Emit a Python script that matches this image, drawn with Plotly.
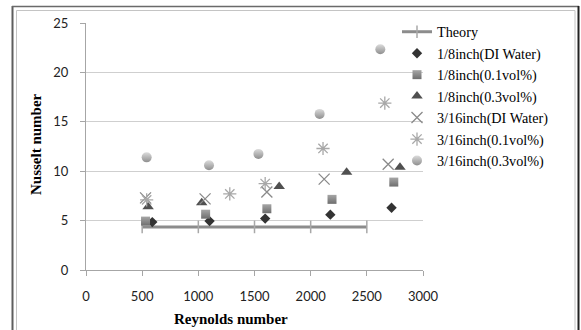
import plotly.graph_objects as go

# ---- data ----
theory_re = [500, 1000, 1500, 2000, 2500]
theory_nu = [4.36, 4.36, 4.36, 4.36, 4.36]

s1_re = [590, 1100, 1595, 2175, 2720]      # 1/8inch(DI Water)
s1_nu = [4.85, 4.95, 5.2, 5.6, 6.3]

s2_re = [530, 1065, 1610, 2190, 2740]      # 1/8inch(0.1vol%)
s2_nu = [4.95, 5.65, 6.2, 7.15, 8.9]

s3_re = [553, 1030, 1720, 2320, 2795]      # 1/8inch(0.3vol%)
s3_nu = [6.4, 6.8, 8.45, 9.9, 10.4]

s4_re = [530, 1060, 1610, 2120, 2690]      # 3/16inch(DI Water)
s4_nu = [7.3, 7.2, 7.9, 9.2, 10.7]

s5_re = [540, 1280, 1595, 2110, 2660]      # 3/16inch(0.1vol%)
s5_nu = [7.1, 7.7, 8.75, 12.3, 16.9]

s6_re = [540, 1095, 1535, 2080, 2620]      # 3/16inch(0.3vol%)
s6_nu = [11.4, 10.6, 11.75, 15.8, 22.35]

x_ticks = [0, 500, 1000, 1500, 2000, 2500, 3000]
y_ticks = [0, 5, 10, 15, 20, 25]

names = ["Theory", "1/8inch(DI Water)", "1/8inch(0.1vol%)", "1/8inch(0.3vol%)",
         "3/16inch(DI Water)", "3/16inch(0.1vol%)", "3/16inch(0.3vol%)"]

fig = go.Figure()

fig.add_trace(go.Scatter(
    x=theory_re, y=theory_nu, name=names[0], mode="lines+markers",
    line=dict(color="#8c8c8c", width=3),
    marker=dict(symbol="line-ns", size=9, color="#a8a8a8",
                line=dict(color="#a8a8a8", width=1.5)),
))
fig.add_trace(go.Scatter(
    x=s1_re, y=s1_nu, name=names[1], mode="markers",
    marker=dict(symbol="diamond", size=8, color="#333333",
                line=dict(width=0)),
))
fig.add_trace(go.Scatter(
    x=s2_re, y=s2_nu, name=names[2], mode="markers",
    marker=dict(symbol="square", size=9, color="#a6a6a6",
                gradient=dict(type="vertical", color="#6e6e6e"),
                line=dict(width=0)),
))
fig.add_trace(go.Scatter(
    x=s3_re, y=s3_nu, name=names[3], mode="markers",
    marker=dict(symbol="triangle-up", size=10, color="#505050",
                line=dict(width=0)),
))
fig.add_trace(go.Scatter(
    x=s4_re, y=s4_nu, name=names[4], mode="markers",
    marker=dict(symbol="x-thin-open", size=11, color="#8a8a8a",
                line=dict(color="#8a8a8a", width=1.3)),
))
fig.add_trace(go.Scatter(
    x=s5_re, y=s5_nu, name=names[5], mode="markers",
    marker=dict(symbol="asterisk-open", size=11, color="#a8a8a8",
                line=dict(color="#a8a8a8", width=1.3)),
))
fig.add_trace(go.Scatter(
    x=s6_re, y=s6_nu, name=names[6], mode="markers",
    marker=dict(symbol="circle", size=10, color="#dcdcdc",
                gradient=dict(type="vertical", color="#8e8e8e"),
                line=dict(width=0)),
))

W, H = 581, 330
L, R, T, B = 86, 158, 23, 60
pw, ph = W - L - R, H - T - B


def px(xp):
    return (xp - L) / pw


def py(yp):
    return (H - B - yp) / ph


fig.add_shape(type="line", xref="paper", yref="paper",
              x0=px(12.5), x1=px(12.5), y0=py(6), y1=py(335),
              line=dict(color="#5e5e5e", width=2))
fig.add_shape(type="line", xref="paper", yref="paper",
              x0=px(12), x1=px(579), y0=py(6.5), y1=py(6.5),
              line=dict(color="#6a6a6a", width=1.5))
fig.add_shape(type="line", xref="paper", yref="paper",
              x0=px(578.5), x1=px(578.5), y0=py(6), y1=py(335),
              line=dict(color="#222222", width=2))
fig.add_shape(type="rect", xref="paper", yref="paper",
              x0=px(16.5), x1=px(575), y0=py(10.5), y1=py(340),
              line=dict(color="#c4c4c4", width=1), fillcolor="rgba(0,0,0,0)")

annotations = [
    dict(text="<b>Reynolds number</b>", xref="paper", yref="paper",
         x=px(231), y=py(319), xanchor="center", yanchor="middle", showarrow=False,
         font=dict(family="Liberation Serif", size=15, color="#000000")),
    dict(text="<b>Nusselt number</b>", xref="paper", yref="paper",
         x=px(36), y=py(144), xanchor="center", yanchor="middle", showarrow=False,
         textangle=-90,
         font=dict(family="Liberation Serif", size=15, color="#000000")),
]

fig.update_layout(
    width=W, height=H,
    margin=dict(l=L, r=R, t=T, b=B, autoexpand=False),
    paper_bgcolor="white", plot_bgcolor="white",
    showlegend=True,
    legend=dict(x=px(397), y=py(16), xanchor="left", yanchor="top",
                font=dict(family="Liberation Serif", size=14.2, color="#000000"),
                bgcolor="rgba(0,0,0,0)", borderwidth=0, tracegroupgap=0,
                itemwidth=30),
    annotations=annotations,
    xaxis=dict(range=[0, 3000], tickvals=x_ticks, ticktext=[str(v) for v in x_ticks],
               showgrid=False, zeroline=False, showline=True, linecolor="#a6a6a6", linewidth=1,
               ticks="outside", ticklen=5, tickcolor="#a6a6a6", ticklabelstandoff=9,
               tickfont=dict(family="Lato", size=13, color="#222222")),
    yaxis=dict(range=[0, 25], tickvals=y_ticks, ticktext=[str(v) for v in y_ticks],
               showgrid=True, gridcolor="#cfcfcf", gridwidth=1, zeroline=False,
               showline=True, linecolor="#a6a6a6", linewidth=1,
               ticks="outside", ticklen=5, tickcolor="#a6a6a6", ticklabelstandoff=9,
               tickfont=dict(family="Lato", size=13, color="#222222")),
)

fig.write_html("out.html", config={"displayModeBar": False},
               post_script="document.body.style.margin='0px';document.body.style.overflow='hidden';")
